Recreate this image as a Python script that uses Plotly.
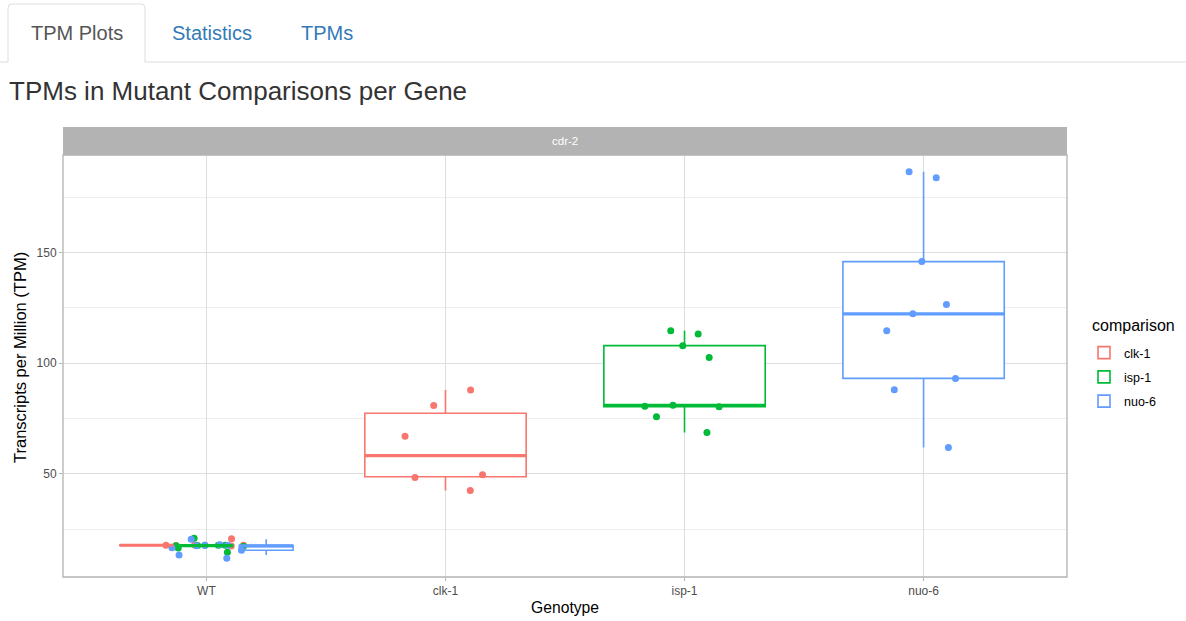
import numpy as np
import plotly.graph_objects as go

# ---------------- data ----------------
genotypes = ["WT", "clk-1", "isp-1", "nuo-6"]
comparisons = ["clk-1", "isp-1", "nuo-6"]

wt_clk1 = [17.7, 17.6, 20.6, 17.3, 17.8, 17.5]
wt_isp1 = [17.6, 14.5, 17.2, 17.4, 20.8, 17.6, 17.5, 17.6, 16.4]
wt_nuo6 = [17.9, 11.8, 15.4, 17.6, 13.2, 17.6, 20.4, 17.4, 16.5]

mut_clk1 = [87.9, 80.8, 66.9, 48.3, 49.5, 42.4]
mut_isp1 = [107.9, 102.5, 113.2, 114.6, 80.5, 80.3, 80.9, 75.8, 68.6]
mut_nuo6 = [186.5, 183.8, 145.9, 126.5, 122.3, 114.6, 93.1, 88.0, 61.8]

y_ticks = [50, 100, 150]

# ---------------- styling ----------------
colors = {"clk-1": "#F8766D", "isp-1": "#00BA38", "nuo-6": "#619CFF"}
FONT = "Liberation Sans, Arial, Helvetica, sans-serif"
W, H = 1186, 621
PL, PR, PT, PB = 63, 1067, 155, 577


def px(x):
    return (x - PL) / (PR - PL)


def py(y):
    return (PB - y) / (PB - PT)


def box_stats(v):
    a = np.sort(np.asarray(v, dtype=float))
    q1, med, q3 = np.percentile(a, [25, 50, 75])   # R type 7, as ggplot
    iqr = q3 - q1
    lf = a[a >= q1 - 1.5 * iqr].min()
    uf = a[a <= q3 + 1.5 * iqr].max()
    return float(q1), float(med), float(q3), float(lf), float(uf)


groups = {
    "WT": {"clk-1": wt_clk1, "isp-1": wt_isp1, "nuo-6": wt_nuo6},
    "clk-1": {"clk-1": mut_clk1},
    "isp-1": {"isp-1": mut_isp1},
    "nuo-6": {"nuo-6": mut_nuo6},
}

BOXW = 0.75   # dodge width
PAD = 0.1     # dodge2 padding
JW = 0.2      # jitter half-width

fig = go.Figure()

layout_boxes = []
for gi, g in enumerate(genotypes):
    comps = list(groups[g].keys())
    n = len(comps)
    slot = BOXW / n
    for ci, c in enumerate(comps):
        center = gi - BOXW / 2 + slot * (ci + 0.5)
        w = slot * (1 - PAD)
        layout_boxes.append((g, c, center, w))

# boxes (ggplot-style quartiles)
for g, c, center, w in layout_boxes:
    q1, med, q3, lf, uf = box_stats(groups[g][c])
    fig.add_trace(go.Box(
        x=[center], q1=[q1], median=[med], q3=[q3], lowerfence=[lf], upperfence=[uf],
        width=w, whiskerwidth=0, boxpoints=False,
        line=dict(color=colors[c], width=1.6), fillcolor="white",
        name=c, legendgroup=c, showlegend=(g != "WT"),
    ))

# thicker median lines (ggplot fatten)
for g, c, center, w in layout_boxes:
    med = box_stats(groups[g][c])[1]
    fig.add_trace(go.Scatter(
        x=[center - w / 2, center + w / 2], y=[med, med], mode="lines",
        line=dict(color=colors[c], width=3.2), showlegend=False,
        legendgroup=c, hoverinfo="skip",
    ))

# jittered points
for gi, g in enumerate(genotypes):
    for c, vals in groups[g].items():
        fig.add_trace(go.Box(
            y=vals, x0=gi, width=2 * JW, boxpoints="all", jitter=1, pointpos=0,
            line=dict(color="rgba(0,0,0,0)", width=0),
            fillcolor="rgba(0,0,0,0)",
            marker=dict(color=colors[c], size=7),
            name=c, legendgroup=c, showlegend=False,
        ))

# ---------------- decorations ----------------
shapes = []
annotations = []


def note(text, x, y, size, color, xanchor="center", angle=0):
    annotations.append(dict(text=text, xref="paper", yref="paper", x=px(x), y=py(y),
                            xanchor=xanchor, yanchor="middle", textangle=angle,
                            showarrow=False, font=dict(size=size, color=color, family=FONT)))


# strip
shapes.append(dict(type="rect", xref="paper", yref="paper", x0=0, x1=1,
                   y0=py(155), y1=py(127), fillcolor="#B3B3B3",
                   line=dict(width=0), layer="above"))
note("cdr-2", 565, 141, 11.5, "white")
# panel border
shapes.append(dict(type="rect", xref="paper", yref="paper", x0=0, x1=1, y0=0, y1=1,
                   line=dict(color="#B3B3B3", width=1.3), fillcolor="rgba(0,0,0,0)",
                   layer="above"))

# tabs
tab_path = (f"M {px(8)},{py(62)} L {px(8)},{py(8)} Q {px(8)},{py(4)} {px(12)},{py(4)} "
            f"L {px(141)},{py(4)} Q {px(145)},{py(4)} {px(145)},{py(8)} L {px(145)},{py(62)}")
shapes.append(dict(type="path", xref="paper", yref="paper", path=tab_path,
                   line=dict(color="#DDDDDD", width=1)))
shapes.append(dict(type="line", xref="paper", yref="paper", x0=px(145), x1=px(1186),
                   y0=py(62), y1=py(62), line=dict(color="#DDDDDD", width=1)))
shapes.append(dict(type="line", xref="paper", yref="paper", x0=px(0), x1=px(8),
                   y0=py(62), y1=py(62), line=dict(color="#DDDDDD", width=1)))
note("TPM Plots", 77, 33, 20, "#555555")
note("Statistics", 212, 33, 20, "#337AB7")
note("TPMs", 327, 33, 20, "#337AB7")
note("TPMs in Mutant Comparisons per Gene", 7, 91, 26, "#333333", xanchor="left")

# axis titles
note("Transcripts per Million (TPM)", 20, 358, 16.5, "black", angle=-90)
note("Genotype", 565, 607, 15.7, "black")

# legend title
note("comparison", 1090, 325, 16, "black", xanchor="left")

fig.update_layout(
    width=W, height=H,
    margin=dict(l=PL, r=W - PR, t=PT, b=H - PB, pad=0),
    paper_bgcolor="white", plot_bgcolor="white",
    font=dict(family=FONT, color="#4D4D4D"),
    boxmode="overlay",
    shapes=shapes, annotations=annotations,
    legend=dict(
        font=dict(size=12.5, color="black"),
        x=px(1084), y=py(338), xanchor="left", yanchor="top",
        tracegroupgap=5, bgcolor="rgba(0,0,0,0)",
    ),
    xaxis=dict(
        type="linear", range=[-0.6, 3.6], tickvals=list(range(len(genotypes))),
        ticktext=genotypes, showgrid=True, gridcolor="#DEDEDE", gridwidth=1,
        zeroline=False, ticks="outside", ticklen=3, tickcolor="#B3B3B3",
        tickfont=dict(size=12, color="#4D4D4D"), showline=False,
    ),
    yaxis=dict(
        range=[3.3, 194.1], tickvals=y_ticks, showgrid=True, gridcolor="#DEDEDE",
        gridwidth=1, zeroline=False, ticks="outside", ticklen=3, tickcolor="#B3B3B3",
        tickfont=dict(size=12, color="#4D4D4D"), showline=False,
        minor=dict(showgrid=True, gridcolor="#EFEFEF", gridwidth=0.6, dtick=25, tick0=25,
                   ticks=""),
    ),
)

fig.write_html("out.html", config={"displayModeBar": False},
               post_script="document.body.style.margin='0px';")
